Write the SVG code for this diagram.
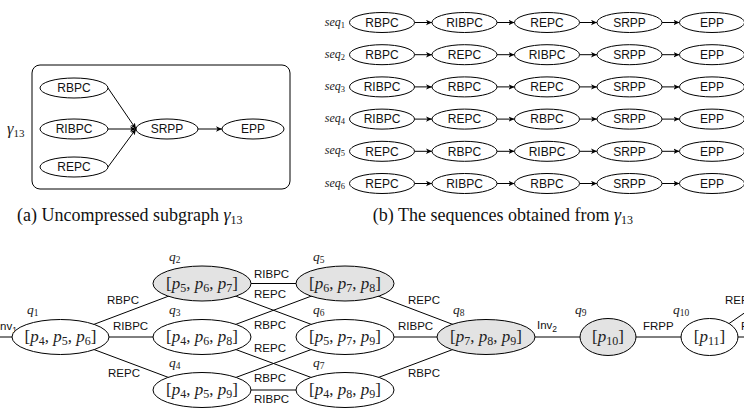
<svg xmlns="http://www.w3.org/2000/svg" width="744" height="408" viewBox="0 0 744 408">
  <style>
    .n { fill: #ffffff; stroke: #000; stroke-width: 1; }
    .g { fill: #e3e3e3; stroke: #000; stroke-width: 1; }
    .e { stroke: #000; stroke-width: 1; fill: none; }
    .t { font-family: "Liberation Sans", Arial, sans-serif; font-size: 12px; text-anchor: middle; fill: #111; }
    .el { font-family: "Liberation Sans", Arial, sans-serif; font-size: 11.5px; fill: #111; }
    .m { font-family: "Liberation Serif", "Times New Roman", serif; font-size: 17px; text-anchor: middle; fill: #222; }
    .q { font-family: "Liberation Serif", "Times New Roman", serif; font-size: 13.5px; font-style: italic; fill: #222; }
    .sq { font-family: "Liberation Serif", "Times New Roman", serif; font-size: 12px; font-style: italic; fill: #222; text-anchor: end; }
    .cap { font-family: "Liberation Serif", "Times New Roman", serif; font-size: 18px; fill: #111; }
    .i { font-style: italic; }
    .sb { font-size: 12px; font-style: normal; }
    .sbq { font-size: 9.5px; font-style: normal; }
  </style>
  <defs>
    <marker id="ah" markerWidth="7" markerHeight="6" refX="6" refY="3" orient="auto" markerUnits="userSpaceOnUse">
      <path d="M0,0.3 L6,3 L0,5.7 L1.6,3 Z" fill="#000"/>
    </marker>
  </defs>

  <!-- (a) subgraph gamma13 -->
  <g id="gamma13-frame">
    <rect x="32" y="65" width="258" height="124" rx="8" class="e"/>
    <text class="q" x="7" y="134" style="font-size:16.5px">γ<tspan class="sbq" style="font-size:11px" dy="3">13</tspan></text>
  </g>
  <g id="a-edges">
    <line x1="108" y1="88" x2="136" y2="129" class="e" marker-end="url(#ah)"/>
    <line x1="108" y1="129" x2="136" y2="129" class="e" marker-end="url(#ah)"/>
    <line x1="108" y1="167" x2="136" y2="129" class="e" marker-end="url(#ah)"/>
    <line x1="198" y1="129" x2="222" y2="129" class="e" marker-end="url(#ah)"/>
  </g>
  <g id="a-RBPC"><ellipse cx="74" cy="88" rx="34" ry="10" class="n"/><text class="t" x="74" y="92.3">RBPC</text></g>
  <g id="a-RIBPC"><ellipse cx="74" cy="129" rx="34" ry="10" class="n"/><text class="t" x="74" y="133.3">RIBPC</text></g>
  <g id="a-REPC"><ellipse cx="74" cy="167" rx="34" ry="10" class="n"/><text class="t" x="74" y="171.3">REPC</text></g>
  <g id="a-SRPP"><ellipse cx="167" cy="129" rx="31" ry="10" class="n"/><text class="t" x="167" y="133.3">SRPP</text></g>
  <g id="a-EPP"><ellipse cx="253" cy="129" rx="31" ry="10" class="n"/><text class="t" x="253" y="133.3">EPP</text></g>
  <text class="cap" x="17" y="221">(a) Uncompressed subgraph <tspan class="i">γ</tspan><tspan style="font-size:12px" dy="3">13</tspan></text>

  <!-- (b) sequences -->
  <g id="b-labels">
    <text class="sq" x="345" y="25.5">seq<tspan class="sbq" style="font-size:8.5px" dy="2">1</tspan></text>
    <text class="sq" x="345" y="57.7">seq<tspan class="sbq" style="font-size:8.5px" dy="2">2</tspan></text>
    <text class="sq" x="345" y="89.9">seq<tspan class="sbq" style="font-size:8.5px" dy="2">3</tspan></text>
    <text class="sq" x="345" y="122.1">seq<tspan class="sbq" style="font-size:8.5px" dy="2">4</tspan></text>
    <text class="sq" x="345" y="154.3">seq<tspan class="sbq" style="font-size:8.5px" dy="2">5</tspan></text>
    <text class="sq" x="345" y="186.5">seq<tspan class="sbq" style="font-size:8.5px" dy="2">6</tspan></text>
  </g>
  <g id="b-edges">
    <line x1="414.5" y1="22.5" x2="432" y2="22.5" class="e" marker-end="url(#ah)"/>
    <line x1="497" y1="22.5" x2="514.5" y2="22.5" class="e" marker-end="url(#ah)"/>
    <line x1="579.5" y1="22.5" x2="597" y2="22.5" class="e" marker-end="url(#ah)"/>
    <line x1="662" y1="22.5" x2="679.5" y2="22.5" class="e" marker-end="url(#ah)"/>
    <line x1="414.5" y1="54.7" x2="432" y2="54.7" class="e" marker-end="url(#ah)"/>
    <line x1="497" y1="54.7" x2="514.5" y2="54.7" class="e" marker-end="url(#ah)"/>
    <line x1="579.5" y1="54.7" x2="597" y2="54.7" class="e" marker-end="url(#ah)"/>
    <line x1="662" y1="54.7" x2="679.5" y2="54.7" class="e" marker-end="url(#ah)"/>
    <line x1="414.5" y1="86.9" x2="432" y2="86.9" class="e" marker-end="url(#ah)"/>
    <line x1="497" y1="86.9" x2="514.5" y2="86.9" class="e" marker-end="url(#ah)"/>
    <line x1="579.5" y1="86.9" x2="597" y2="86.9" class="e" marker-end="url(#ah)"/>
    <line x1="662" y1="86.9" x2="679.5" y2="86.9" class="e" marker-end="url(#ah)"/>
    <line x1="414.5" y1="119.1" x2="432" y2="119.1" class="e" marker-end="url(#ah)"/>
    <line x1="497" y1="119.1" x2="514.5" y2="119.1" class="e" marker-end="url(#ah)"/>
    <line x1="579.5" y1="119.1" x2="597" y2="119.1" class="e" marker-end="url(#ah)"/>
    <line x1="662" y1="119.1" x2="679.5" y2="119.1" class="e" marker-end="url(#ah)"/>
    <line x1="414.5" y1="151.3" x2="432" y2="151.3" class="e" marker-end="url(#ah)"/>
    <line x1="497" y1="151.3" x2="514.5" y2="151.3" class="e" marker-end="url(#ah)"/>
    <line x1="579.5" y1="151.3" x2="597" y2="151.3" class="e" marker-end="url(#ah)"/>
    <line x1="662" y1="151.3" x2="679.5" y2="151.3" class="e" marker-end="url(#ah)"/>
    <line x1="414.5" y1="183.5" x2="432" y2="183.5" class="e" marker-end="url(#ah)"/>
    <line x1="497" y1="183.5" x2="514.5" y2="183.5" class="e" marker-end="url(#ah)"/>
    <line x1="579.5" y1="183.5" x2="597" y2="183.5" class="e" marker-end="url(#ah)"/>
    <line x1="662" y1="183.5" x2="679.5" y2="183.5" class="e" marker-end="url(#ah)"/>
  </g>
  <!-- seq1 -->
  <g id="s1-1"><ellipse cx="382" cy="22.5" rx="32.5" ry="10" class="n"/><text class="t" x="382" y="26.7">RBPC</text></g>
  <g id="s1-2"><ellipse cx="464.5" cy="22.5" rx="32.5" ry="10" class="n"/><text class="t" x="464.5" y="26.7">RIBPC</text></g>
  <g id="s1-3"><ellipse cx="547" cy="22.5" rx="32.5" ry="10" class="n"/><text class="t" x="547" y="26.7">REPC</text></g>
  <g id="s1-4"><ellipse cx="629.5" cy="22.5" rx="32.5" ry="10" class="n"/><text class="t" x="629.5" y="26.7">SRPP</text></g>
  <g id="s1-5"><ellipse cx="712" cy="22.5" rx="32.5" ry="10" class="n"/><text class="t" x="712" y="26.7">EPP</text></g>
  <!-- seq2 -->
  <g id="s2-1"><ellipse cx="382" cy="54.7" rx="32.5" ry="10" class="n"/><text class="t" x="382" y="58.9">RBPC</text></g>
  <g id="s2-2"><ellipse cx="464.5" cy="54.7" rx="32.5" ry="10" class="n"/><text class="t" x="464.5" y="58.9">REPC</text></g>
  <g id="s2-3"><ellipse cx="547" cy="54.7" rx="32.5" ry="10" class="n"/><text class="t" x="547" y="58.9">RIBPC</text></g>
  <g id="s2-4"><ellipse cx="629.5" cy="54.7" rx="32.5" ry="10" class="n"/><text class="t" x="629.5" y="58.9">SRPP</text></g>
  <g id="s2-5"><ellipse cx="712" cy="54.7" rx="32.5" ry="10" class="n"/><text class="t" x="712" y="58.9">EPP</text></g>
  <!-- seq3 -->
  <g id="s3-1"><ellipse cx="382" cy="86.9" rx="32.5" ry="10" class="n"/><text class="t" x="382" y="91.1">RIBPC</text></g>
  <g id="s3-2"><ellipse cx="464.5" cy="86.9" rx="32.5" ry="10" class="n"/><text class="t" x="464.5" y="91.1">RBPC</text></g>
  <g id="s3-3"><ellipse cx="547" cy="86.9" rx="32.5" ry="10" class="n"/><text class="t" x="547" y="91.1">REPC</text></g>
  <g id="s3-4"><ellipse cx="629.5" cy="86.9" rx="32.5" ry="10" class="n"/><text class="t" x="629.5" y="91.1">SRPP</text></g>
  <g id="s3-5"><ellipse cx="712" cy="86.9" rx="32.5" ry="10" class="n"/><text class="t" x="712" y="91.1">EPP</text></g>
  <!-- seq4 -->
  <g id="s4-1"><ellipse cx="382" cy="119.1" rx="32.5" ry="10" class="n"/><text class="t" x="382" y="123.3">RIBPC</text></g>
  <g id="s4-2"><ellipse cx="464.5" cy="119.1" rx="32.5" ry="10" class="n"/><text class="t" x="464.5" y="123.3">REPC</text></g>
  <g id="s4-3"><ellipse cx="547" cy="119.1" rx="32.5" ry="10" class="n"/><text class="t" x="547" y="123.3">RBPC</text></g>
  <g id="s4-4"><ellipse cx="629.5" cy="119.1" rx="32.5" ry="10" class="n"/><text class="t" x="629.5" y="123.3">SRPP</text></g>
  <g id="s4-5"><ellipse cx="712" cy="119.1" rx="32.5" ry="10" class="n"/><text class="t" x="712" y="123.3">EPP</text></g>
  <!-- seq5 -->
  <g id="s5-1"><ellipse cx="382" cy="151.3" rx="32.5" ry="10" class="n"/><text class="t" x="382" y="155.5">REPC</text></g>
  <g id="s5-2"><ellipse cx="464.5" cy="151.3" rx="32.5" ry="10" class="n"/><text class="t" x="464.5" y="155.5">RBPC</text></g>
  <g id="s5-3"><ellipse cx="547" cy="151.3" rx="32.5" ry="10" class="n"/><text class="t" x="547" y="155.5">RIBPC</text></g>
  <g id="s5-4"><ellipse cx="629.5" cy="151.3" rx="32.5" ry="10" class="n"/><text class="t" x="629.5" y="155.5">SRPP</text></g>
  <g id="s5-5"><ellipse cx="712" cy="151.3" rx="32.5" ry="10" class="n"/><text class="t" x="712" y="155.5">EPP</text></g>
  <!-- seq6 -->
  <g id="s6-1"><ellipse cx="382" cy="183.5" rx="32.5" ry="10" class="n"/><text class="t" x="382" y="187.7">REPC</text></g>
  <g id="s6-2"><ellipse cx="464.5" cy="183.5" rx="32.5" ry="10" class="n"/><text class="t" x="464.5" y="187.7">RIBPC</text></g>
  <g id="s6-3"><ellipse cx="547" cy="183.5" rx="32.5" ry="10" class="n"/><text class="t" x="547" y="187.7">RBPC</text></g>
  <g id="s6-4"><ellipse cx="629.5" cy="183.5" rx="32.5" ry="10" class="n"/><text class="t" x="629.5" y="187.7">SRPP</text></g>
  <g id="s6-5"><ellipse cx="712" cy="183.5" rx="32.5" ry="10" class="n"/><text class="t" x="712" y="187.7">EPP</text></g>
  <text class="cap" x="633" y="221" text-anchor="end">(b) The sequences obtained from <tspan class="i">γ</tspan><tspan style="font-size:12px" dy="3">13</tspan></text>

  <!-- compressed graph: connectors run centre to centre, nodes are painted over them -->
  <g id="q-edges" class="e">
    <line x1="0" y1="337" x2="60.5" y2="337"/>
    <line x1="60.5" y1="337" x2="202" y2="283.5"/>
    <line x1="60.5" y1="337" x2="202" y2="337"/>
    <line x1="60.5" y1="337" x2="202" y2="390"/>
    <line x1="202" y1="283.5" x2="345" y2="283.5"/>
    <line x1="202" y1="283.5" x2="345" y2="337"/>
    <line x1="202" y1="337" x2="345" y2="283.5"/>
    <line x1="202" y1="337" x2="345" y2="390"/>
    <line x1="202" y1="390" x2="345" y2="337"/>
    <line x1="202" y1="390" x2="345" y2="390"/>
    <line x1="345" y1="283.5" x2="486" y2="337"/>
    <line x1="345" y1="337" x2="486" y2="337"/>
    <line x1="345" y1="390" x2="486" y2="337"/>
    <line x1="486" y1="337" x2="608" y2="337"/>
    <line x1="608" y1="337" x2="709.5" y2="337"/>
    <line x1="709.5" y1="337" x2="750" y2="337"/>
    <line x1="709.5" y1="337" x2="780" y2="288.5"/>
  </g>
  <g id="q-edge-labels" class="el">
    <text x="-3.2" y="330">Inv<tspan style="font-size:8.5px" dy="2.5">1</tspan></text>
    <text x="107" y="304">RBPC</text>
    <text x="113" y="330">RIBPC</text>
    <text x="108" y="377">REPC</text>
    <text x="254" y="278">RIBPC</text>
    <text x="254" y="298">REPC</text>
    <text x="254" y="329">RBPC</text>
    <text x="254" y="352">REPC</text>
    <text x="254" y="382">RBPC</text>
    <text x="254" y="403">RIBPC</text>
    <text x="408" y="304">REPC</text>
    <text x="398" y="330">RIBPC</text>
    <text x="408" y="377">RBPC</text>
    <text x="537" y="329">Inv<tspan style="font-size:8.5px" dy="2.5">2</tspan></text>
    <text x="643" y="330">FRPP</text>
    <text x="725" y="304">REPC</text>
    <text x="741" y="330">RIBPC</text>
  </g>

  <g id="q1"><ellipse cx="60.5" cy="337" rx="48.5" ry="17.5" class="n"/>
    <text class="q" x="27" y="314">q<tspan class="sbq" dy="2">1</tspan></text>
    <text class="m" x="60.5" y="342">[<tspan class="i">p</tspan><tspan class="sb" dy="3">4</tspan><tspan dy="-3">, </tspan><tspan class="i">p</tspan><tspan class="sb" dy="3">5</tspan><tspan dy="-3">, </tspan><tspan class="i">p</tspan><tspan class="sb" dy="3">6</tspan><tspan dy="-3">]</tspan></text></g>
  <g id="q2"><ellipse cx="202" cy="283.5" rx="49" ry="17.5" class="g"/>
    <text class="q" x="169" y="261">q<tspan class="sbq" dy="2">2</tspan></text>
    <text class="m" x="202" y="288.5">[<tspan class="i">p</tspan><tspan class="sb" dy="3">5</tspan><tspan dy="-3">, </tspan><tspan class="i">p</tspan><tspan class="sb" dy="3">6</tspan><tspan dy="-3">, </tspan><tspan class="i">p</tspan><tspan class="sb" dy="3">7</tspan><tspan dy="-3">]</tspan></text></g>
  <g id="q3"><ellipse cx="202" cy="337" rx="49" ry="17.5" class="n"/>
    <text class="q" x="169" y="314">q<tspan class="sbq" dy="2">3</tspan></text>
    <text class="m" x="202" y="342">[<tspan class="i">p</tspan><tspan class="sb" dy="3">4</tspan><tspan dy="-3">, </tspan><tspan class="i">p</tspan><tspan class="sb" dy="3">6</tspan><tspan dy="-3">, </tspan><tspan class="i">p</tspan><tspan class="sb" dy="3">8</tspan><tspan dy="-3">]</tspan></text></g>
  <g id="q4"><ellipse cx="202" cy="390" rx="49" ry="17.5" class="n"/>
    <text class="q" x="169" y="367">q<tspan class="sbq" dy="2">4</tspan></text>
    <text class="m" x="202" y="395">[<tspan class="i">p</tspan><tspan class="sb" dy="3">4</tspan><tspan dy="-3">, </tspan><tspan class="i">p</tspan><tspan class="sb" dy="3">5</tspan><tspan dy="-3">, </tspan><tspan class="i">p</tspan><tspan class="sb" dy="3">9</tspan><tspan dy="-3">]</tspan></text></g>
  <g id="q5"><ellipse cx="345" cy="283.5" rx="49" ry="17.5" class="g"/>
    <text class="q" x="313" y="261">q<tspan class="sbq" dy="2">5</tspan></text>
    <text class="m" x="345" y="288.5">[<tspan class="i">p</tspan><tspan class="sb" dy="3">6</tspan><tspan dy="-3">, </tspan><tspan class="i">p</tspan><tspan class="sb" dy="3">7</tspan><tspan dy="-3">, </tspan><tspan class="i">p</tspan><tspan class="sb" dy="3">8</tspan><tspan dy="-3">]</tspan></text></g>
  <g id="q6"><ellipse cx="345" cy="337" rx="49" ry="17.5" class="n"/>
    <text class="q" x="313" y="314">q<tspan class="sbq" dy="2">6</tspan></text>
    <text class="m" x="345" y="342">[<tspan class="i">p</tspan><tspan class="sb" dy="3">5</tspan><tspan dy="-3">, </tspan><tspan class="i">p</tspan><tspan class="sb" dy="3">7</tspan><tspan dy="-3">, </tspan><tspan class="i">p</tspan><tspan class="sb" dy="3">9</tspan><tspan dy="-3">]</tspan></text></g>
  <g id="q7"><ellipse cx="345" cy="390" rx="49" ry="17.5" class="n"/>
    <text class="q" x="313" y="367">q<tspan class="sbq" dy="2">7</tspan></text>
    <text class="m" x="345" y="395">[<tspan class="i">p</tspan><tspan class="sb" dy="3">4</tspan><tspan dy="-3">, </tspan><tspan class="i">p</tspan><tspan class="sb" dy="3">8</tspan><tspan dy="-3">, </tspan><tspan class="i">p</tspan><tspan class="sb" dy="3">9</tspan><tspan dy="-3">]</tspan></text></g>
  <g id="q8"><ellipse cx="486" cy="337" rx="49" ry="17.5" class="g"/>
    <text class="q" x="453" y="314">q<tspan class="sbq" dy="2">8</tspan></text>
    <text class="m" x="486" y="342">[<tspan class="i">p</tspan><tspan class="sb" dy="3">7</tspan><tspan dy="-3">, </tspan><tspan class="i">p</tspan><tspan class="sb" dy="3">8</tspan><tspan dy="-3">, </tspan><tspan class="i">p</tspan><tspan class="sb" dy="3">9</tspan><tspan dy="-3">]</tspan></text></g>
  <g id="q9"><ellipse cx="608" cy="337" rx="28" ry="18.5" class="g"/>
    <text class="q" x="575" y="314">q<tspan class="sbq" dy="2">9</tspan></text>
    <text class="m" x="608" y="342">[<tspan class="i">p</tspan><tspan class="sb" dy="3">10</tspan><tspan dy="-3">]</tspan></text></g>
  <g id="q10"><ellipse cx="709.5" cy="337" rx="28.5" ry="18.5" class="n"/>
    <text class="q" x="673" y="314">q<tspan class="sbq" dy="2">10</tspan></text>
    <text class="m" x="709.5" y="342">[<tspan class="i">p</tspan><tspan class="sb" dy="3">11</tspan><tspan dy="-3">]</tspan></text></g>
</svg>
